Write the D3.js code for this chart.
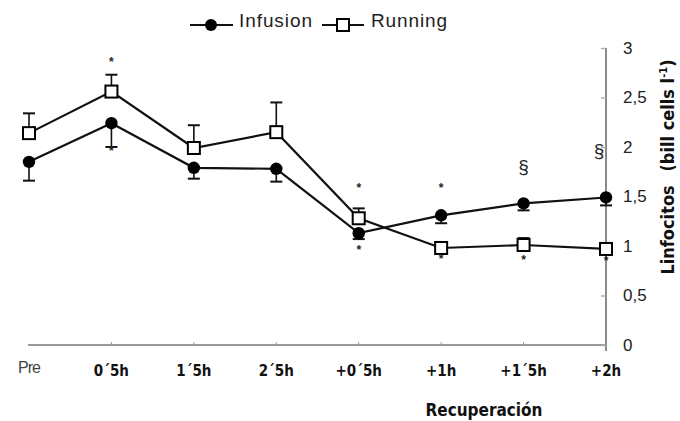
<!DOCTYPE html>
<html>
<head>
<meta charset="utf-8">
<script src="https://cdn.jsdelivr.net/npm/d3@7"></script>
<style>
  body { margin: 0; background: #fff; }
  svg { display: block; }
</style>
</head>
<body>
<svg id="chart" width="680" height="421"></svg>
<script>
// Time points of the protocol
const categories = ["Pre", "0´5h", "1´5h", "2´5h", "+0´5h", "+1h", "+1´5h", "+2h"];

// Lymphocyte counts (bill cells l-1), mean and standard error
const infusion    = [1.85, 2.24, 1.79, 1.78, 1.13, 1.31, 1.43, 1.49];
const infusionErr = [0.19, 0.24, 0.11, 0.13, 0.06, 0.08, 0.07, 0.08];
const running     = [2.14, 2.56, 1.99, 2.15, 1.28, 0.98, 1.01, 0.97];
const runningErr  = [0.20, 0.17, 0.23, 0.30, 0.10, 0.00, 0.07, 0.00];

const yTicks = [0, 0.5, 1, 1.5, 2, 2.5, 3];

// Significance marks: category, value where the mark sits, symbol
const marks = [
  ["0´5h", 2.86, "*"], ["0´5h", 1.96, "*"],
  ["+0´5h", 1.59, "*"], ["+0´5h", 0.96, "*"],
  ["+1h", 1.59, "*"], ["+1h", 0.87, "*"],
  ["+1´5h", 0.86, "*"], ["+2h", 0.85, "*"],
  ["+1´5h", 1.80, "§"], ["+2h", 1.96, "§"]
];

const svg = d3.select("#chart");

const x = d3.scalePoint().domain(categories).range([29, 606]);
const y = d3.scaleLinear().domain([0, 3]).range([345, 48]);

const boldFont = "'DejaVu Sans Condensed', 'DejaVu Sans', sans-serif";
const plainFont = "Arial, 'Liberation Sans', sans-serif";

// Horizontal baseline
svg.append("line")
  .attr("x1", 28).attr("x2", 606)
  .attr("y1", y(0)).attr("y2", y(0))
  .attr("stroke", "#9a9a9a").attr("stroke-width", 2);

// Small tick marks along the baseline
svg.append("g").selectAll("line")
  .data(categories.slice(1, -1))
  .join("line")
  .attr("x1", d => x(d)).attr("x2", d => x(d))
  .attr("y1", y(0) - 3).attr("y2", y(0))
  .attr("stroke", "#9a9a9a").attr("stroke-width", 1);

// Right-hand value axis
const yAxis = d3.axisRight(y)
  .tickValues(yTicks)
  .tickSize(0)
  .tickPadding(17)
  .tickFormat(d => d3.format("")(d).replace(".", ","));

const gy = svg.append("g")
  .attr("transform", `translate(${x("+2h")},0)`)
  .call(yAxis);
gy.select(".domain").attr("stroke", "#8a8a8a").attr("stroke-width", 2)
  .attr("d", `M0,${y(3)}V${y(0) + 6}`);
gy.selectAll(".tick text")
  .attr("font-family", plainFont)
  .attr("font-size", 17).attr("fill", "#222");
gy.selectAll(".tick").append("line")
  .attr("x1", -5).attr("x2", 0)
  .attr("stroke", "#b0b0b0").attr("stroke-width", 1.5);

// Category labels
svg.append("g").selectAll("text")
  .data(categories)
  .join("text")
  .attr("x", d => x(d))
  .attr("y", (d, i) => i === 0 ? 373 : 376)
  .attr("text-anchor", "middle")
  .attr("font-family", (d, i) => i === 0 ? plainFont : boldFont)
  .attr("font-weight", (d, i) => i === 0 ? "normal" : "bold")
  .attr("font-size", (d, i) => i === 0 ? 16 : 15)
  .attr("letter-spacing", (d, i) => i === 0 ? -1 : 0)
  .attr("fill", (d, i) => i === 0 ? "#444" : "#111")
  .text(d => d);

// Axis titles
svg.append("text")
  .attr("x", 484).attr("y", 416)
  .attr("text-anchor", "middle")
  .attr("font-family", boldFont)
  .attr("font-weight", "bold").attr("font-size", 17)
  .attr("fill", "#111")
  .text("Recuperación");

const yt = svg.append("text")
  .attr("transform", "translate(674,167) rotate(-90)")
  .attr("text-anchor", "middle")
  .attr("font-family", boldFont)
  .attr("font-weight", "bold").attr("font-size", 18)
  .attr("fill", "#111");
yt.append("tspan").text("Linfocitos\u2002 (bill cells l");
yt.append("tspan").attr("dy", -7).attr("font-size", 11).text("-1");
yt.append("tspan").attr("dy", 7).text(")");

// Series lines
const line = d3.line().x((d, i) => x(categories[i])).y(d => y(d));

function drawErrors(values, errs, dir) {
  const g = svg.append("g").attr("stroke", "#111").attr("stroke-width", 1.6);
  values.forEach((v, i) => {
    if (!errs[i]) return;
    const cx = x(categories[i]);
    const end = y(v + dir * errs[i]);
    g.append("line").attr("x1", cx).attr("x2", cx).attr("y1", y(v)).attr("y2", end);
    g.append("line").attr("x1", cx - 6).attr("x2", cx + 6).attr("y1", end).attr("y2", end)
      .attr("stroke-width", 2);
  });
}

drawErrors(infusion, infusionErr, -1);
drawErrors(running, runningErr, 1);

svg.append("path").datum(infusion)
  .attr("d", line).attr("fill", "none")
  .attr("stroke", "#111").attr("stroke-width", 2.2);
svg.append("path").datum(running)
  .attr("d", line).attr("fill", "none")
  .attr("stroke", "#111").attr("stroke-width", 2.2);

svg.append("g").selectAll("circle")
  .data(infusion).join("circle")
  .attr("cx", (d, i) => x(categories[i])).attr("cy", d => y(d))
  .attr("r", 6.2).attr("fill", "#000");

svg.append("g").selectAll("rect")
  .data(running).join("rect")
  .attr("x", (d, i) => x(categories[i]) - 6).attr("y", d => y(d) - 6)
  .attr("width", 12).attr("height", 12)
  .attr("fill", "#fff").attr("stroke", "#000").attr("stroke-width", 2);

// Significance symbols; the one on the axis line is nudged to its left
svg.append("g").selectAll("text")
  .data(marks).join("text")
  .attr("x", d => x(d[0]) - (d[2] === "§" && d[0] === "+2h" ? 7 : 0))
  .attr("y", d => y(d[1]))
  .attr("text-anchor", "middle")
  .attr("dominant-baseline", "central")
  .attr("font-family", plainFont)
  .attr("font-size", d => d[2] === "§" ? 19 : 12)
  .attr("font-weight", d => d[2] === "*" ? "bold" : "normal")
  .attr("fill", "#222")
  .text(d => d[2]);

// Legend
const legend = svg.append("g").attr("font-family", plainFont)
  .attr("font-size", 19).attr("fill", "#222");
legend.append("line").attr("x1", 190).attr("x2", 233).attr("y1", 25).attr("y2", 25)
  .attr("stroke", "#111").attr("stroke-width", 2);
legend.append("circle").attr("cx", 211).attr("cy", 25).attr("r", 6).attr("fill", "#000");
legend.append("text").attr("x", 239).attr("y", 27).attr("textLength", 73).text("Infusion");
legend.append("line").attr("x1", 322).attr("x2", 364).attr("y1", 25).attr("y2", 25)
  .attr("stroke", "#111").attr("stroke-width", 2);
legend.append("rect").attr("x", 337).attr("y", 19).attr("width", 12).attr("height", 12)
  .attr("fill", "#fff").attr("stroke", "#000").attr("stroke-width", 2);
legend.append("text").attr("x", 371).attr("y", 27).attr("textLength", 76).text("Running");
</script>
</body>
</html>
